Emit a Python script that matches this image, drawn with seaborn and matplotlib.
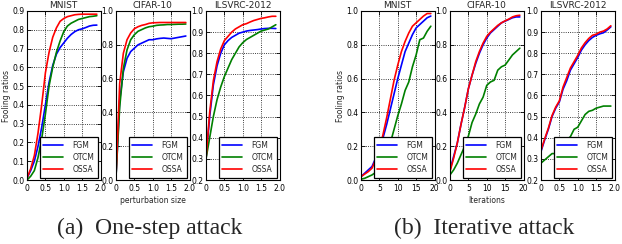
import matplotlib
matplotlib.use("Agg")
import matplotlib.pyplot as plt
import seaborn as sns
import pandas as pd

sns.set_style("white")
plt.rcParams['font.family'] = ['DejaVu Sans']

methods = ['FGM', 'OTCM', 'OSSA']
colors = {'FGM': 'blue', 'OTCM': 'green', 'OSSA': 'red'}

# perturbation size / iteration grids
eps = [0.0, 0.1, 0.2, 0.3, 0.4, 0.5, 0.6, 0.7, 0.8, 0.9,
       1.0, 1.1, 1.2, 1.3, 1.4, 1.5, 1.6, 1.7, 1.8, 1.9]
iters = [0, 1, 2, 3, 4, 5, 6, 7, 8, 9, 10, 11, 12, 13, 14, 15, 16, 17, 18, 19]

# (a) one-step attack
a_mnist_fgm = [0.01, 0.05, 0.10, 0.18, 0.28, 0.40, 0.52, 0.61, 0.67, 0.705,
               0.73, 0.755, 0.775, 0.79, 0.80, 0.805, 0.812, 0.82, 0.824, 0.825]
a_mnist_otcm = [0.0, 0.02, 0.05, 0.12, 0.22, 0.35, 0.50, 0.60, 0.68, 0.74,
                0.79, 0.82, 0.835, 0.845, 0.855, 0.86, 0.865, 0.87, 0.872, 0.875]
a_mnist_ossa = [0.01, 0.06, 0.13, 0.25, 0.40, 0.57, 0.68, 0.76, 0.81, 0.845,
                0.86, 0.87, 0.875, 0.88, 0.882, 0.883, 0.883, 0.883, 0.883, 0.883]

a_cifar_fgm = [0.02, 0.47, 0.64, 0.72, 0.76, 0.78, 0.80, 0.81, 0.82, 0.83,
               0.83, 0.835, 0.838, 0.84, 0.838, 0.836, 0.84, 0.844, 0.848, 0.852]
a_cifar_otcm = [0.02, 0.43, 0.66, 0.77, 0.83, 0.86, 0.88, 0.89, 0.90, 0.907,
                0.91, 0.915, 0.917, 0.918, 0.92, 0.92, 0.921, 0.922, 0.922, 0.923]
a_cifar_ossa = [0.02, 0.57, 0.75, 0.83, 0.87, 0.895, 0.907, 0.915, 0.92, 0.927,
                0.93, 0.931, 0.932, 0.932, 0.932, 0.932, 0.932, 0.932, 0.932, 0.932]

a_ilsvrc_fgm = [0.30, 0.50, 0.65, 0.74, 0.80, 0.84, 0.86, 0.875, 0.885, 0.895,
                0.90, 0.905, 0.908, 0.91, 0.912, 0.915, 0.917, 0.918, 0.918, 0.917]
a_ilsvrc_otcm = [0.30, 0.40, 0.50, 0.58, 0.64, 0.69, 0.73, 0.77, 0.80, 0.83,
                 0.85, 0.865, 0.875, 0.885, 0.895, 0.905, 0.91, 0.915, 0.925, 0.935]
a_ilsvrc_ossa = [0.30, 0.52, 0.67, 0.76, 0.82, 0.86, 0.88, 0.90, 0.915, 0.925,
                 0.935, 0.94, 0.948, 0.955, 0.96, 0.965, 0.968, 0.972, 0.975, 0.975]

# (b) iterative attack
b_mnist_fgm = [0.02, 0.04, 0.06, 0.08, 0.13, 0.18, 0.25, 0.33, 0.42, 0.51,
               0.60, 0.68, 0.76, 0.81, 0.86, 0.90, 0.92, 0.94, 0.96, 0.97]
b_mnist_otcm = [0.005, 0.01, 0.02, 0.03, 0.045, 0.07, 0.10, 0.15, 0.22, 0.30,
                0.38, 0.45, 0.53, 0.58, 0.67, 0.74, 0.83, 0.84, 0.88, 0.91]
b_mnist_ossa = [0.02, 0.035, 0.05, 0.07, 0.12, 0.18, 0.27, 0.37, 0.48, 0.59,
                0.68, 0.76, 0.82, 0.87, 0.91, 0.93, 0.95, 0.97, 0.985, 0.985]

b_cifar_fgm = [0.06, 0.14, 0.22, 0.33, 0.43, 0.54, 0.62, 0.69, 0.75, 0.80,
               0.84, 0.87, 0.89, 0.91, 0.93, 0.94, 0.95, 0.96, 0.965, 0.965]
b_cifar_otcm = [0.03, 0.06, 0.10, 0.15, 0.20, 0.26, 0.34, 0.39, 0.45, 0.49,
                0.56, 0.58, 0.59, 0.65, 0.67, 0.68, 0.71, 0.74, 0.76, 0.78]
b_cifar_ossa = [0.05, 0.13, 0.22, 0.33, 0.43, 0.54, 0.62, 0.70, 0.76, 0.81,
                0.85, 0.875, 0.895, 0.915, 0.93, 0.942, 0.952, 0.965, 0.972, 0.975]

b_ilsvrc_fgm = [0.335, 0.39, 0.44, 0.50, 0.54, 0.57, 0.63, 0.67, 0.72, 0.75,
                0.78, 0.815, 0.84, 0.86, 0.875, 0.885, 0.892, 0.897, 0.91, 0.925]
b_ilsvrc_otcm = [0.28, 0.295, 0.31, 0.325, 0.325, 0.34, 0.365, 0.39, 0.405, 0.44,
                 0.45, 0.48, 0.51, 0.525, 0.53, 0.54, 0.545, 0.55, 0.55, 0.55]
b_ilsvrc_ossa = [0.34, 0.395, 0.445, 0.505, 0.545, 0.575, 0.64, 0.685, 0.73, 0.76,
                 0.79, 0.825, 0.85, 0.87, 0.885, 0.89, 0.9, 0.905, 0.915, 0.93]

eps_ticks = ['0', '0.5', '1.0', '1.5', '2.0']
iter_ticks = ['0', '5', '10', '15', '20']

panels = [
    # title, x, series, ylim, ystep, xmax, xtick labels, left px, xlabel
    ('MNIST', eps, [a_mnist_fgm, a_mnist_otcm, a_mnist_ossa], (0, 0.9), 0.1,
     2.0, eps_ticks, 27, None),
    ('CIFAR-10', eps, [a_cifar_fgm, a_cifar_otcm, a_cifar_ossa], (0, 1.0), 0.2,
     2.0, eps_ticks, 116, 'perturbation size'),
    ('ILSVRC-2012', eps, [a_ilsvrc_fgm, a_ilsvrc_otcm, a_ilsvrc_ossa], (0.2, 1.0), 0.1,
     2.0, eps_ticks, 206, None),
    ('MNIST', iters, [b_mnist_fgm, b_mnist_otcm, b_mnist_ossa], (0, 1.0), 0.2,
     20, iter_ticks, 361, None),
    ('CIFAR-10', iters, [b_cifar_fgm, b_cifar_otcm, b_cifar_ossa], (0, 1.0), 0.2,
     20, iter_ticks, 450, 'Iterations'),
    ('ILSVRC-2012', eps, [b_ilsvrc_fgm, b_ilsvrc_otcm, b_ilsvrc_ossa], (0.2, 1.0), 0.1,
     2.0, eps_ticks, 541, None),
]

W, H = 622, 244
fig = plt.figure(figsize=(W / 100, H / 100), dpi=100)

for title, x, series, ylim, ystep, xmax, xlabels, left, xlabel in panels:
    ax = fig.add_axes([left / W, (H - 180) / H, 73.5 / W, 169 / H])
    rows = []
    for m, vals in zip(methods, series):
        for xv, yv in zip(x, vals):
            rows.append({'x': xv, 'y': yv, 'method': m})
    df = pd.DataFrame(rows)
    sns.lineplot(data=df, x='x', y='y', hue='method', hue_order=methods,
                 palette=colors, linewidth=1.2, ax=ax)
    ax.set_xlim(0, xmax)
    ax.set_ylim(*ylim)
    ax.set_xticks([float(t) for t in xlabels])
    ax.set_xticklabels(xlabels)
    n = int(round((ylim[1] - ylim[0]) / ystep))
    yt = [round(ylim[0] + k * ystep, 2) for k in range(n + 1)]
    ax.set_yticks(yt)
    ax.set_yticklabels(['%.1f' % t for t in yt])
    ax.grid(True, color='black', linestyle=':', linewidth=0.6)
    ax.tick_params(direction='in', length=3, width=0.6, labelsize=5.5, pad=2,
                   top=True, right=True, bottom=True, left=True, colors='black')
    ax.tick_params(axis='x', pad=3)
    for s in ax.spines.values():
        s.set_color('black')
        s.set_linewidth(0.8)
    ax.set_title(title, fontsize=6.5, pad=2)
    ax.set_xlabel(xlabel if xlabel else '', fontsize=5.5, labelpad=2)
    ax.set_ylabel('Fooling ratios' if title == 'MNIST' else '', fontsize=5.5, labelpad=1)
    sns.move_legend(ax, 'lower right', title=None, fontsize=5.5, frameon=True,
                    fancybox=False, edgecolor='black', framealpha=1,
                    borderaxespad=0.3, handlelength=2.6, handletextpad=1.2,
                    borderpad=0.5, labelspacing=0.4)
    leg = ax.get_legend()
    leg.get_frame().set_linewidth(0.9)
    for line in leg.get_lines():
        line.set_linewidth(1.2)

fig.text(150 / W, 1 - 228 / H, '(a)  One-step attack', ha='center', va='center',
         fontsize=17, family=['Liberation Serif', 'DejaVu Serif'])
fig.text(484 / W, 1 - 228 / H, '(b)  Iterative attack', ha='center', va='center',
         fontsize=17, family=['Liberation Serif', 'DejaVu Serif'])

fig.savefig('out.png', dpi=100)
